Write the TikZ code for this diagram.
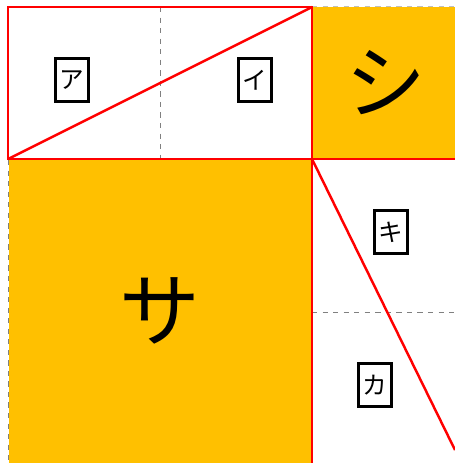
\documentclass[tikz,border=0pt]{standalone}
\usepackage{fontspec}
\newfontfamily\jpfont{Noto Sans CJK JP}
\usepackage{tikz}
\definecolor{jaune}{HTML}{FFC000}
\tikzstyle{etiquette} = [rectangle, draw=black, line width=1.3pt, minimum width=0.66cm, minimum height=0.86cm, inner sep=0pt, font=\jpfont\fontsize{14}{14}\selectfont]
\tikzstyle{grand} = [font=\jpfont\fontsize{46}{46}\selectfont]
\tikzstyle{rouge} = [draw=red, line width=1.4pt]
\tikzstyle{pointille} = [draw=gray, dashed, line width=0.4pt]

\begin{document}
\begin{tikzpicture}[x=0.02cm, y=-0.02cm]

        \useasboundingbox (0,0) rectangle (455,463);

        \coordinate (HG) at (8,7);
        \coordinate (HD) at (312,7);
        \coordinate (BG) at (8,159);
        \coordinate (C) at (312,159);
        \coordinate (BD) at (455,159);
        \coordinate (Bas) at (312,463);
        \coordinate (Fin) at (455,450);

        \fill[jaune] (9,160) rectangle (312,463);
        \fill[jaune] (312,7) rectangle (455,159);

        \draw[pointille] (8,160) -- (8,463);
        \draw[pointille, draw=lightgray] (312,6.5) -- (455,6.5);
        \draw[pointille] (160,7) -- (160,159);
        \draw[pointille] (312,312) -- (455,312);

        \draw[rouge] (HG) rectangle (C);
        \draw[rouge] (HD) -- (Bas);
        \draw[rouge] (BG) -- (BD);
        \draw[rouge] (BG) -- (HD);
        \draw[rouge] (C) -- (Fin);

        \node (A) [etiquette] at (72,80) {ア};
        \node (I) [etiquette] at (255,80) {イ};
        \node (Ki) [etiquette] at (391,232) {キ};
        \node (Ka) [etiquette] at (375,385) {カ};

        \node (Shi) [grand] at (386,83) {シ};
        \node (Sa) [grand] at (160,311) {サ};

    \end{tikzpicture}
\end{document}
